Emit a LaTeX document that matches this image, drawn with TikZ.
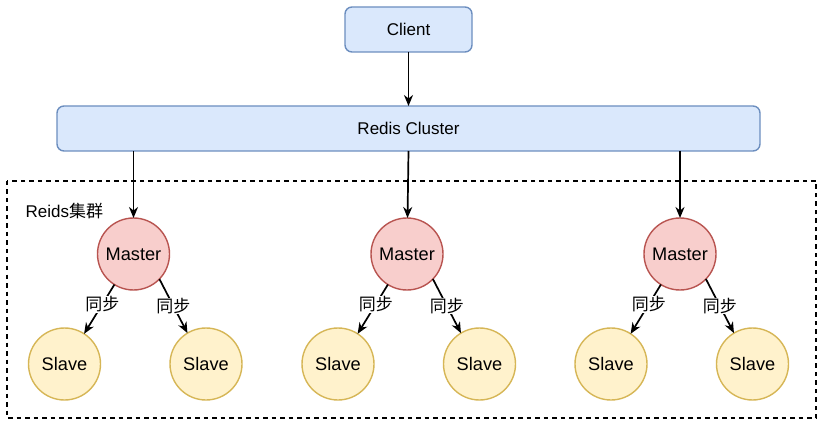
\documentclass[tikz,border=0pt]{standalone}
\usepackage{fontspec}
\setmainfont{Liberation Sans}
\newfontfamily\cjk{Noto Sans CJK SC}
\usetikzlibrary{arrows.meta}
\definecolor{bluefill}{HTML}{DAE8FC}
\definecolor{bluedraw}{HTML}{6C8EBF}
\definecolor{redfill}{HTML}{F8CECC}
\definecolor{reddraw}{HTML}{B85450}
\definecolor{yelfill}{HTML}{FFF2CC}
\definecolor{yeldraw}{HTML}{D6B656}
\tikzset{
  bluebox/.style={draw=bluedraw,fill=bluefill,line width=1.4pt,rounded corners=7pt,
    inner sep=0pt,outer sep=0pt,font=\fontsize{17}{20}\selectfont},
  masternode/.style={circle,draw=reddraw,fill=redfill,line width=1.4pt,minimum size=72pt,
    inner sep=0pt,outer sep=0pt,font=\fontsize{18.2}{21}\selectfont},
  slavenode/.style={circle,draw=yeldraw,fill=yelfill,line width=1.4pt,minimum size=72pt,
    inner sep=0pt,outer sep=0pt,font=\fontsize{18.2}{21}\selectfont},
  arr/.style={line width=1.7pt,-{Stealth[length=11pt,width=9pt,inset=3.5pt]}},
  synclabel/.style={fill=white,inner sep=0.5pt,font=\cjk\fontsize{17}{19}\selectfont},
  groupbox/.style={draw=black,line width=1.4pt,dash pattern=on 4.5pt off 4pt},
}
\begin{document}
\begin{tikzpicture}[x=1pt,y=-1pt]
\useasboundingbox (0,0) rectangle (824,430);
\draw[groupbox] (7,181) rectangle (816,418);
\node[anchor=west,inner sep=0pt,font=\fontsize{17}{20}\selectfont] (glabel) at (25.5,211) {Reids{\cjk 集群}};
\node[bluebox,minimum width=127pt,minimum height=45pt] (client) at (408.5,29.5) {Client};
\node[bluebox,minimum width=703pt,minimum height=45pt] (cluster) at (408.5,128.5) {Redis Cluster};
\draw[arr] (client) -- (cluster);
\foreach \i/\x in {1/133.5,2/407,3/680}{
  \node[masternode] (m\i) at (\x,254) {Master};
  \node[slavenode] (sl\i) at (\x-69,364) {Slave};
  \node[slavenode] (sr\i) at (\x+72.5,364) {Slave};
  \draw[arr] (m\i.-122.6) -- node[synclabel,pos=0.4] {同步} (sl\i.57);
  \draw[arr] (m\i.-44.4) -- node[synclabel,pos=0.5] {同步} (sr\i.121.4);
}
\draw[arr] (cluster.south -| m1) -- (m1);
\draw[arr] (cluster.south) -- (m2);
\draw[arr] (cluster.south -| m3) -- (m3);
\end{tikzpicture}
\end{document}
